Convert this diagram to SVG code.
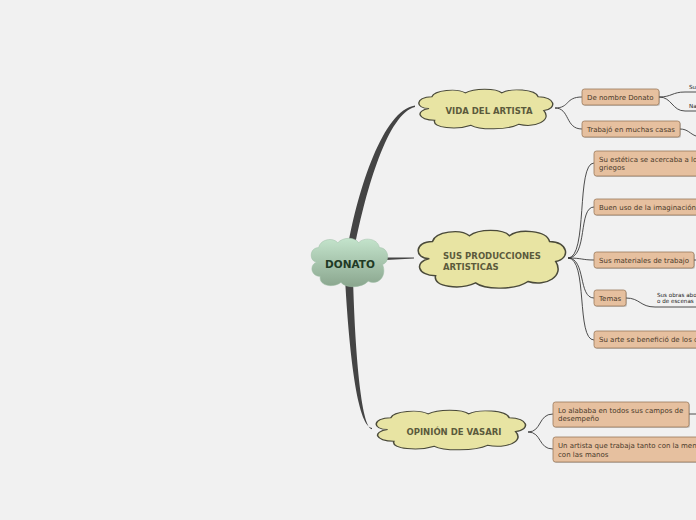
<svg xmlns="http://www.w3.org/2000/svg" width="696" height="520" viewBox="0 0 696 520">
<defs>
<style>
.cloud{fill:#e8e4a3;stroke:#4a4a3a;stroke-width:1}
.ct{font-family:Verdana,"DejaVu Sans",sans-serif;font-weight:bold;font-size:8.5px;fill:#5b5a3c}
.box{fill:#e6c09f;stroke:#9a7a5c;stroke-width:0.8}
.shadow{fill:#000;opacity:0.18}
.bt{font-family:Verdana,"DejaVu Sans",sans-serif;font-size:7px;fill:#4a3a2a}
.st{font-family:Verdana,"DejaVu Sans",sans-serif;font-size:5.6px;fill:#222}
.ln{fill:none;stroke:#3a3a3a;stroke-width:0.9}
.main{fill:#444}
</style>
<linearGradient id="g" x1="0" y1="0" x2="0" y2="1">
<stop offset="0" stop-color="#c4e4cc"/>
<stop offset="1" stop-color="#8aa68e"/>
</linearGradient>
<path id="cl" d="M10,20 C0,20 0,8 12,8 C14,1 30,-1 36,4 C42,-1 58,-1 62,4 C68,-1 86,0 88,8 C100,8 102,20 92,22 C98,32 86,40 74,36 C66,42 46,42 40,37 C30,42 12,40 14,32 C2,32 0,22 10,20 Z"/>
</defs>
<rect width="696" height="520" fill="#f1f1f1"/>
<g id="connectors">
<path class="main" d="M348,246 C358,190 383,110 415,105.5 L415,107 C388,113 366,190 355,246 Z"/>
<path class="main" d="M386,257.5 L414,257.5 L414,258.5 L386,260 Z"/>
<path class="main" d="M345,278 C349,350 357,426 372,428 L372,429.3 C361,427 355,350 353,278 Z"/>
<path class="ln" d="M555,108 C570,108 565,97 582,97"/>
<path class="ln" d="M555,108 C570,108 565,129 582,129"/>
<path class="ln" d="M659,97 C672,97 672,92 685,92 L696,92"/>
<path class="ln" d="M659,97 C672,97 672,111 685,111 L696,111"/>
<path class="ln" d="M680,129 C688,129 690,134 696,136"/>
<path class="ln" d="M568,258 C588,258 576,163 594,163"/>
<path class="ln" d="M568,258 C588,258 578,207 594,207"/>
<path class="ln" d="M568,258 C582,258 582,260 594,260"/>
<path class="ln" d="M568,258 C586,258 578,298 594,298"/>
<path class="ln" d="M568,258 C588,258 576,340 594,340"/>
<path class="ln" d="M694,260 L696,260"/>
<path class="ln" d="M626,298 C640,298 640,307 655,307 L696,307"/>
<path class="ln" d="M528,432 C542,432 538,414 553,414"/>
<path class="ln" d="M528,432 C542,432 538,449 553,449"/>
<path class="ln" d="M689,414 L696,414"/>
</g>
<g id="donato">
<use href="#cl" transform="translate(309,238) scale(0.8,1.2)" fill="url(#g)" stroke="#9fbfa6" stroke-width="0.5" vector-effect="non-scaling-stroke"/>
<text x="350" y="268" text-anchor="middle" font-family="Verdana,'DejaVu Sans',sans-serif" font-weight="bold" font-size="10.5px" fill="#1f3a25">DONATO</text>
</g>
<g id="vida">
<use href="#cl" class="cloud" transform="translate(415,89) scale(1.4,0.98)" vector-effect="non-scaling-stroke"/>
<text class="ct" x="489" y="114" text-anchor="middle">VIDA DEL ARTISTA</text>
</g>
<g id="producciones">
<use href="#cl" class="cloud" transform="translate(414,230) scale(1.54,1.43)" vector-effect="non-scaling-stroke"/>
<text class="ct" x="443" y="259">SUS PRODUCCIONES</text>
<text class="ct" x="443" y="270">ARTISTICAS</text>
</g>
<g id="vasari">
<use href="#cl" class="cloud" transform="translate(372,410) scale(1.56,0.98)" vector-effect="non-scaling-stroke"/>
<text class="ct" x="454" y="435" text-anchor="middle">OPINIÓN DE VASARI</text>
</g>
<g id="nombre">
<rect class="shadow" x="583" y="90" width="77" height="16" rx="2.5"/>
<rect class="box" x="582" y="89" width="77" height="16" rx="2.5"/>
<text class="bt" x="587" y="99.5">De nombre Donato</text>
</g>
<g id="casas">
<rect class="shadow" x="583" y="122" width="98" height="16" rx="2.5"/>
<rect class="box" x="582" y="121" width="98" height="16" rx="2.5"/>
<text class="bt" x="587" y="131.5">Trabajó en muchas casas</text>
</g>
<g id="estetica">
<rect class="shadow" x="595" y="152" width="110" height="25" rx="2.5"/>
<rect class="box" x="594" y="151" width="110" height="25" rx="2.5"/>
<text class="bt" x="599" y="161.5">Su estética se acercaba a los</text>
<text class="bt" x="599" y="170">griegos</text>
</g>
<g id="imaginacion">
<rect class="shadow" x="595" y="200" width="110" height="16" rx="2.5"/>
<rect class="box" x="594" y="199" width="110" height="16" rx="2.5"/>
<text class="bt" x="599" y="209.5">Buen uso de la imaginación</text>
</g>
<g id="materiales">
<rect class="shadow" x="595" y="253" width="100" height="16" rx="2.5"/>
<rect class="box" x="594" y="252" width="100" height="16" rx="2.5"/>
<text class="bt" x="599" y="262.5">Sus materiales de trabajo</text>
</g>
<g id="temas">
<rect class="shadow" x="595" y="291" width="32" height="16" rx="2.5"/>
<rect class="box" x="594" y="290" width="32" height="16" rx="2.5"/>
<text class="bt" x="599" y="300.5">Temas</text>
</g>
<g id="beneficio">
<rect class="shadow" x="595" y="332" width="120" height="17" rx="2.5"/>
<rect class="box" x="594" y="331" width="120" height="17" rx="2.5"/>
<text class="bt" x="599" y="342">Su arte se benefició de los conocimientos</text>
</g>
<g id="alababa">
<rect class="shadow" x="554" y="403" width="136" height="25" rx="2.5"/>
<rect class="box" x="553" y="402" width="136" height="25" rx="2.5"/>
<text class="bt" x="558" y="412.5">Lo alababa en todos sus campos de</text>
<text class="bt" x="558" y="421">desempeño</text>
</g>
<g id="artista">
<rect class="shadow" x="554" y="438" width="150" height="25" rx="2.5"/>
<rect class="box" x="553" y="437" width="150" height="25" rx="2.5"/>
<text class="bt" x="558" y="447.5">Un artista que trabaja tanto con la mente</text>
<text class="bt" x="558" y="456.5">con las manos</text>
</g>
<g id="subtexts">
<text class="st" x="689" y="89">Su</text>
<text class="st" x="689" y="107.5">Na</text>
<text class="st" x="657" y="296.5">Sus obras abordan</text>
<text class="st" x="657" y="303">o de escenas</text>
</g>
</svg>
